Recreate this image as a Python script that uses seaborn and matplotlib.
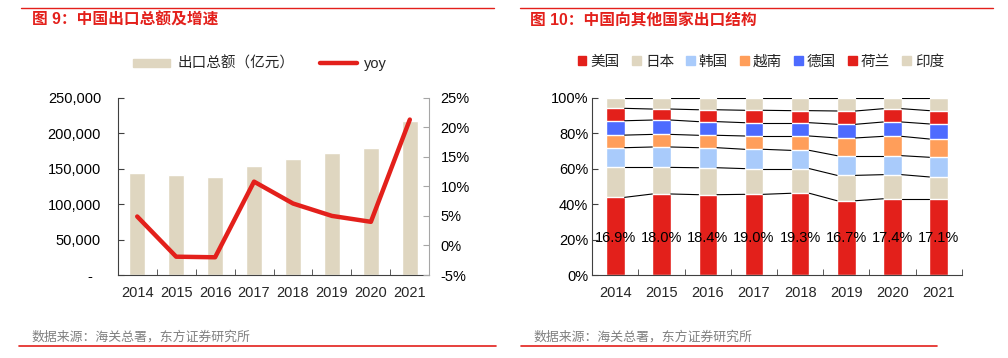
import numpy as np
import pandas as pd
import matplotlib
matplotlib.use("Agg")
import matplotlib.pyplot as plt
import matplotlib.ticker as mticker
from matplotlib.patches import Patch
from matplotlib.lines import Line2D
import seaborn as sns

# ---- data ----
years = ['2014', '2015', '2016', '2017', '2018', '2019', '2020', '2021']
export_total = [143884, 141167, 138419, 153309, 164129, 172342, 179326, 217348]   # 亿元
export_yoy = [4.9, -1.9, -2.0, 10.8, 7.1, 5.0, 4.0, 21.3]                         # %

countries = ['美国', '日本', '韩国', '越南', '德国', '荷兰', '印度']
share_us = [43.8, 45.7, 45.3, 45.5, 46.1, 41.9, 43.0, 43.0]
share_jp = [16.9, 15.0, 15.2, 14.5, 13.9, 14.3, 13.6, 12.3]
share_kr = [11.1, 11.5, 11.3, 10.9, 10.3, 11.1, 10.7, 11.1]
share_vn = [7.1, 7.1, 7.0, 7.5, 8.1, 10.0, 10.9, 10.3]
share_de = [8.1, 8.1, 7.7, 7.5, 7.5, 7.7, 8.1, 8.5]
share_nl = [7.0, 6.2, 6.7, 7.0, 6.8, 7.5, 7.5, 7.5]
share_in = [6.0, 6.4, 6.8, 7.1, 7.3, 7.5, 6.2, 7.3]
us_labels = ['16.9%', '18.0%', '18.4%', '19.0%', '19.3%', '16.7%', '17.4%', '17.1%']

RED = '#E3201B'
BEIGE = '#DFD6C0'
country_colors = [RED, BEIGE, '#A9CBFB', '#FF9E5A', '#4D6BFF', RED, BEIGE]

sns.set_style("ticks")
plt.rcParams['font.family'] = ['Liberation Sans', 'Noto Sans CJK SC']
plt.rcParams['axes.unicode_minus'] = False

fig = plt.figure(figsize=(10.08, 3.58), dpi=100)
ax1 = fig.add_axes([0.1168, 0.2318, 0.3091, 0.4953])
ax2 = fig.add_axes([0.5876, 0.2318, 0.3665, 0.4953])

# ---- left: total exports + yoy ----
sns.barplot(x=years, y=export_total, color=BEIGE, saturation=1, width=0.4, ax=ax1)
ax1.set_ylim(0, 250000)
ax1.set_yticks(range(0, 250001, 50000))
ax1.yaxis.set_major_formatter(mticker.FuncFormatter(lambda v, p: '-  ' if v == 0 else f'{int(v):,}'))
ax1.set_xlim(-0.5, 7.5)

ax1b = ax1.twinx()
sns.lineplot(x=range(len(years)), y=export_yoy, color=RED, lw=3.2, ax=ax1b)
ax1b.set_ylim(-5, 25)
ax1b.set_yticks(range(-5, 26, 5))
ax1b.yaxis.set_major_formatter(mticker.FuncFormatter(lambda v, p: f'{v:.0f}%'))
ax1b.set_xlim(-0.5, 7.5)

for ax in (ax1, ax1b):
    for s in ax.spines.values():
        s.set_visible(False)
ax1.spines['left'].set_visible(True)
ax1.spines['bottom'].set_visible(True)
ax1.spines['left'].set_color('#404040')
ax1.spines['bottom'].set_color('#404040')
ax1b.spines['right'].set_visible(True)
ax1b.spines['right'].set_color('#A6A6A6')
ax1.tick_params(axis='y', direction='in', length=4, pad=12, labelsize=10.5, colors='#404040', labelcolor='black')
ax1b.tick_params(axis='y', direction='in', length=4, pad=8, labelsize=10.5, colors='#A6A6A6', labelcolor='black')

# ---- right: export structure ----
shares = np.array([share_us, share_jp, share_kr, share_vn, share_de, share_nl, share_in])
shares = shares / shares.sum(axis=0) * 100
cum = np.cumsum(shares, axis=0)
for k in range(len(countries) - 1, -1, -1):
    sns.barplot(x=years, y=cum[k], color=country_colors[k], saturation=1, width=0.4, ax=ax2)
# series lines between bars
half = 0.2
for k in range(len(countries)):
    for i in range(len(years) - 1):
        ax2.plot([i + half, i + 1 - half], [cum[k][i], cum[k][i + 1]], color='black', lw=0.8, zorder=3)
for i, lab in enumerate(us_labels):
    ax2.text(i, 21, lab, ha='center', va='center', fontsize=10.5, color='black', zorder=4)

ax2.set_ylim(0, 100)
ax2.set_yticks(range(0, 101, 20))
ax2.yaxis.set_major_formatter(mticker.FuncFormatter(lambda v, p: f'{v:.0f}%'))
ax2.set_xlim(-0.5, 7.5)
for s in ('top', 'right'):
    ax2.spines[s].set_visible(False)
ax2.spines['left'].set_color('#404040')
ax2.spines['bottom'].set_color('#404040')
ax2.tick_params(axis='y', direction='in', length=4, pad=3, labelsize=10.5, colors='#404040', labelcolor='black')

for ax in (ax1, ax2):
    ax.set_xlabel('')
    ax.set_ylabel('')
    ax.set_xticks(np.arange(-0.5, 8, 1), minor=True)
    ax.tick_params(axis='x', which='major', length=0, pad=8, labelsize=10.5)
    ax.tick_params(axis='x', which='minor', direction='in', length=4, color='#404040')
ax1b.set_ylabel('')

# ---- legends ----
fig.legend(handles=[Patch(color=BEIGE), Line2D([], [], color=RED, lw=3.2)],
           labels=['出口总额（亿元）', 'yoy'], ncol=2, loc='center',
           bbox_to_anchor=(0.258, 0.822), frameon=False, fontsize=10.5,
           handlelength=2.5, handleheight=0.5, handletextpad=0.5, columnspacing=1.8)
fig.legend(handles=[Patch(color=c) for c in country_colors], labels=countries,
           ncol=7, loc='center', bbox_to_anchor=(0.755, 0.827), frameon=False,
           fontsize=10.5, handlelength=0.6, handleheight=0.6, handletextpad=0.3,
           columnspacing=0.8)

# ---- titles, rules, sources ----
fig.text(32 / 1008, 1 - 20 / 358, '图 9：中国出口总额及增速', color=RED, fontsize=11.3,
         fontweight='bold', ha='left', va='center')
fig.text(530 / 1008, 1 - 20 / 358, '图 10：中国向其他国家出口结构', color=RED, fontsize=11.3,
         fontweight='bold', ha='left', va='center')
for x0, x1 in ((21, 494), (520, 993)):
    fig.add_artist(Line2D([x0 / 1008, x1 / 1008], [1 - 8 / 358] * 2, color=RED, lw=1))
for x0, x1 in ((19, 496), (521, 937)):
    fig.add_artist(Line2D([x0 / 1008, x1 / 1008], [1 - 346 / 358] * 2, color=RED, lw=1.2))
for x0 in (31, 533):
    fig.text(x0 / 1008, 1 - 337 / 358, '数据来源：海关总署，东方证券研究所', color='#808080',
             fontsize=9.3, ha='left', va='center')

fig.savefig('out.png', dpi=100)
